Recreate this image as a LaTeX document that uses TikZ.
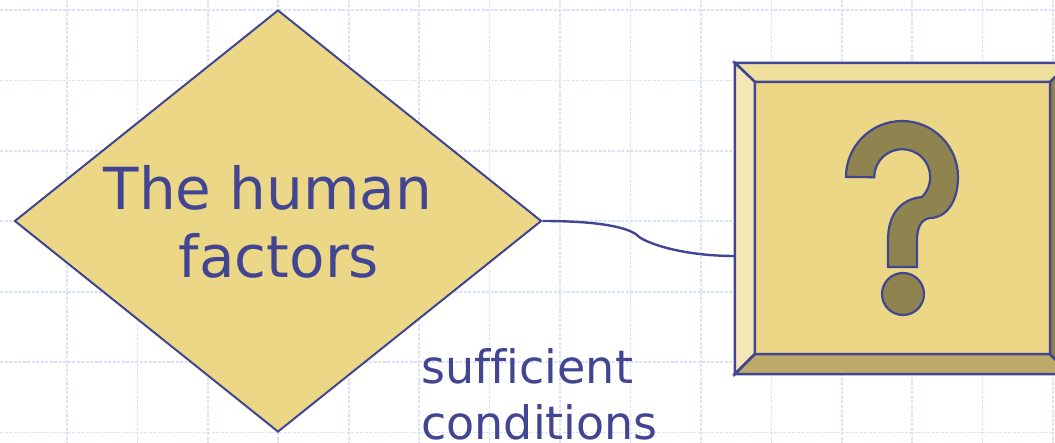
\documentclass[tikz,border=0pt]{standalone}
\usepackage{fontspec}
\setmainfont{DejaVu Sans}[Ligatures=NoCommon]
\usetikzlibrary{shapes.geometric,calc}
\definecolor{ink}{RGB}{66,70,146}
\definecolor{gold}{RGB}{235,215,133}
\definecolor{bevtop}{RGB}{240,224,160}
\definecolor{bevleft}{RGB}{245,232,182}
\definecolor{bevbottom}{RGB}{190,170,104}
\definecolor{bevright}{RGB}{143,130,80}
\definecolor{qfill}{RGB}{143,131,79}
\definecolor{gridblue}{RGB}{218,226,250}
\tikzset{
  gridline/.style={gridblue, line width=1.6pt, dash pattern=on 3pt off 1.5pt},
  decision/.style={diamond, draw=ink, fill=gold, line width=2pt, inner sep=0pt,
    minimum width=527pt, minimum height=422pt},
  bigtext/.style={font=\fontsize{58}{68}\selectfont, text=ink, inner sep=0pt},
  smalltext/.style={font=\fontsize{46}{56}\selectfont, text=ink, inner sep=0pt},
  bevel/.style={draw=ink, line width=2.5pt, line join=miter},
  qmark/.style={draw=ink, fill=qfill, line width=2.2pt},
  link/.style={draw=ink, line width=2.4pt}
}
\begin{document}
\begin{tikzpicture}[x=1pt,y=-1pt]
\useasboundingbox (0,0) rectangle (1055,443);
\begin{scope}
\clip (0,0) rectangle (1055,443);
% background grid
\foreach \k in {0,...,14} \draw[gridline] ({67+70.43*\k},0) -- ({67+70.43*\k},443);
\foreach \k in {0,...,6} \draw[gridline] (0,{10+70.43*\k}) -- (1055,{10+70.43*\k});

% decision diamond
\node[decision] (hf) at (278,221) {};
\node[bigtext, align=center] (hftext) at (279,222) {\mbox{The human\hspace{22pt}}\\factors};

% bevelled box with question mark
\node[rectangle, minimum width=335pt, minimum height=311pt, inner sep=0pt] (qbox) at (902.5,218.5) {};
\coordinate (o1) at (qbox.north west);
\coordinate (o2) at (qbox.north east);
\coordinate (o3) at (qbox.south east);
\coordinate (o4) at (qbox.south west);
\coordinate (i1) at ($(o1)+(20,19)$);
\coordinate (i2) at ($(o2)+(-20,19)$);
\coordinate (i3) at ($(o3)+(-20,-20)$);
\coordinate (i4) at ($(o4)+(20,-20)$);
\fill[gold] (i1) rectangle (i3);
\filldraw[bevel, fill=bevtop] (o1) -- (o2) -- (i2) -- (i1) -- cycle;
\filldraw[bevel, fill=bevleft] (o1) -- (i1) -- (i4) -- (o4) -- cycle;
\filldraw[bevel, fill=bevbottom] (o4) -- (i4) -- (i3) -- (o3) -- cycle;
\filldraw[bevel, fill=bevright] (o2) -- (o3) -- (i3) -- (i2) -- cycle;
\draw[bevel] (i1) rectangle (i3);

% question mark
\draw[qmark] (846,177) arc[start angle=180, end angle=360, radius=56]
  .. controls (958,202) and (946,218) .. (930,218)
  .. controls (921,219) and (917,228) .. (917,240)
  -- (917,267) -- (888,267) -- (888,240)
  .. controls (888,214) and (901,199) .. (922,197)
  arc[start angle=45, end angle=-180, radius=28] -- cycle;
\draw[qmark] (903,294) circle[radius=21];

% connector
\coordinate (port) at (735,256);
\draw[link] (hf.east) .. controls +(60,0) and +(-9,-7) .. (637,235)
  .. controls +(3,5) and +(-60,0) .. (port);

% edge label
\node[smalltext, align=left, anchor=base west] (cond) at (421,439) {sufficient\\conditions};
\end{scope}
\end{tikzpicture}
\end{document}
